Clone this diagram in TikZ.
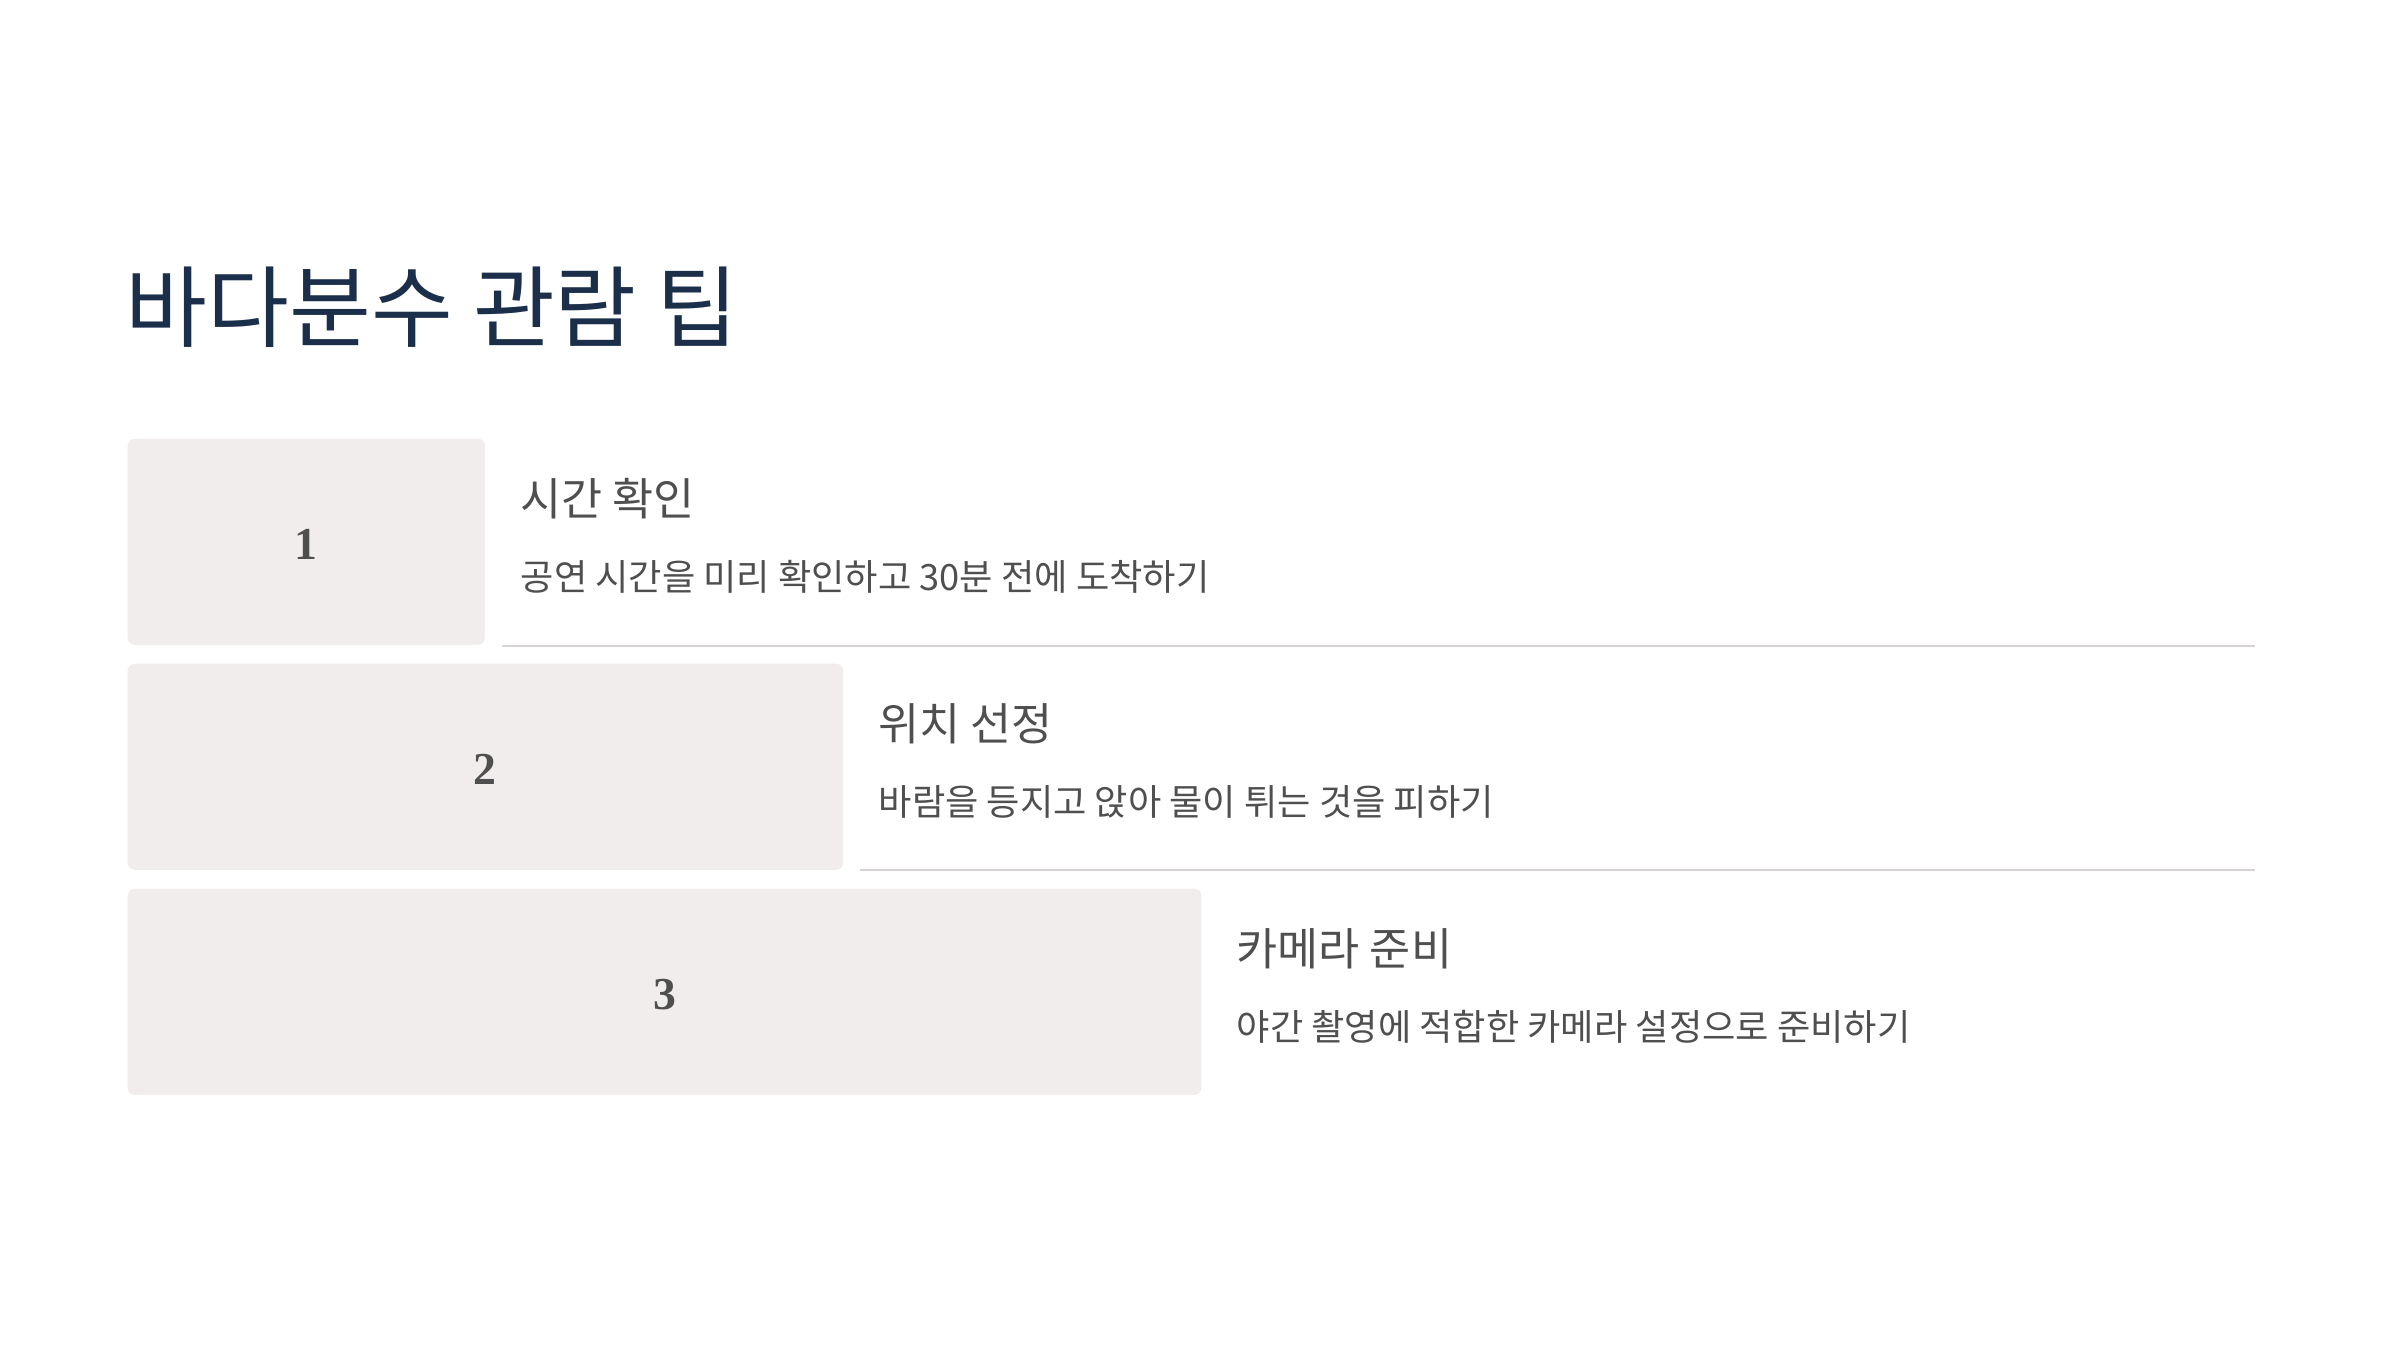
\documentclass[tikz,border=0pt]{standalone}
\usepackage{fontspec}
\setmainfont{Noto Sans CJK KR}
\newfontfamily\numfont{Liberation Serif}
\definecolor{titlecol}{HTML}{1B2F4B}
\definecolor{textcol}{HTML}{4F4F4F}
\definecolor{boxcol}{HTML}{F1EDED}
\definecolor{linecol}{HTML}{D8D3D3}
\tikzset{
  stepbox/.style={fill=boxcol, rounded corners=2pt, inner sep=0pt, anchor=north west},
  numlabel/.style={font=\numfont\bfseries\fontsize{13pt}{15pt}\selectfont, text=textcol, yshift=-0.03cm},
  itemtitle/.style={font=\fontsize{12.7pt}{15pt}\selectfont, text=textcol, anchor=west, inner sep=0pt},
  itemdesc/.style={font=\fontsize{10.3pt}{12pt}\selectfont, text=textcol, anchor=west, inner sep=0pt},
  sepline/.style={draw=linecol, line width=0.6pt}
}
\begin{document}
\begin{tikzpicture}[x=0.01cm,y=-0.01cm]
\useasboundingbox (0,0) rectangle (2400,1350);
\fill[white] (0,0) rectangle (2400,1350);
\node[anchor=west, inner sep=0pt, text=titlecol, font=\fontsize{25.3pt}{30pt}\selectfont] (title) at (125,307) {바다분수 관람 팁};
% boxes
\node[stepbox, minimum width=3.57cm, minimum height=2.06cm] (b1) at (127,438) {};
\node[stepbox, minimum width=7.15cm, minimum height=2.06cm] (b2) at (127,663) {};
\node[stepbox, minimum width=10.73cm, minimum height=2.06cm] (b3) at (127,888) {};
\node[numlabel] (n1) at (b1.center) {1};
\node[numlabel] (n2) at (b2.center) {2};
\node[numlabel] (n3) at (b3.center) {3};
% texts
\node[itemtitle] (t1) at (520,499) {시간 확인};
\node[itemdesc] (d1) at (520,577) {공연 시간을 미리 확인하고 30분 전에 도착하기};
\node[itemtitle] (t2) at (878,724) {위치 선정};
\node[itemdesc] (d2) at (878,802) {바람을 등지고 앉아 물이 튀는 것을 피하기};
\node[itemtitle] (t3) at (1236,949) {카메라 준비};
\node[itemdesc] (d3) at (1236,1027) {야간 촬영에 적합한 카메라 설정으로 준비하기};
% separators
\coordinate (l1a) at (502,646);
\coordinate (l1b) at (2255,646);
\coordinate (l2a) at (860,870);
\coordinate (l2b) at (2255,870);
\draw[sepline] (l1a) -- (l1b);
\draw[sepline] (l2a) -- (l2b);
\end{tikzpicture}
\end{document}
